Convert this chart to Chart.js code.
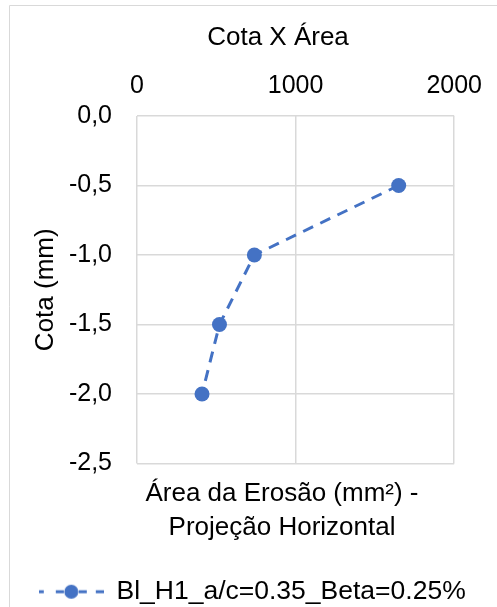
<!DOCTYPE html>
<html lang="pt">
<head>
<meta charset="utf-8">
<title>Cota X Área</title>
<script src="https://cdn.jsdelivr.net/npm/chart.js@4/dist/chart.umd.min.js"></script>
<style>
  html, body { margin: 0; padding: 0; background: #fff; overflow: hidden; }
  #wrap { position: relative; width: 497px; height: 607px; }
</style>
</head>
<body>
<div id="wrap"><canvas id="cotaChart"></canvas></div>
<script>
// Área projetada da erosão (mm²) em cada cota (mm)
const areaValues = [1650, 740, 520, 410];
const cotaValues = [-0.5, -1.0, -1.5, -2.0];
const xTicks = [0, 1000, 2000];
const yTicks = [0, -0.5, -1.0, -1.5, -2.0, -2.5];

const seriesLabel = 'Bl_H1_a/c=0.35_Beta=0.25%';
const chartTitle = 'Cota X Área';
const xTitleLines = ['Área da Erosão (mm²) -', 'Projeção Horizontal'];
const yTitle = 'Cota (mm)';

const BLUE = '#4472C4';
const GRID = '#d9d9d9';
const FONT = '"Liberation Sans", Arial, sans-serif';

Chart.defaults.font.family = FONT;
Chart.defaults.font.size = 25;
Chart.defaults.color = '#000';

// legend glyph: dashed line with the round marker in the middle
function makeLegendGlyph() {
  const c = document.createElement('canvas');
  c.width = 65;
  c.height = 20;
  const g = c.getContext('2d');
  g.strokeStyle = BLUE;
  g.lineWidth = 3;
  const dashes = [[0, 5], [17, 25], [40, 48], [57, 65]];
  dashes.forEach(d => {
    g.beginPath();
    g.moveTo(d[0], 10);
    g.lineTo(d[1], 10);
    g.stroke();
  });
  g.fillStyle = BLUE;
  g.beginPath();
  g.arc(32.5, 10, 7, 0, Math.PI * 2);
  g.fill();
  return c;
}

// outer frame plus chart title and bottom axis title
const chartDecor = {
  id: 'chartDecor',
  beforeDraw(chart) {
    const ctx = chart.ctx;
    ctx.save();
    ctx.strokeStyle = GRID;
    ctx.lineWidth = 1;
    ctx.beginPath();
    ctx.moveTo(9.5, chart.height);
    ctx.lineTo(9.5, 5.5);
    ctx.lineTo(chart.width, 5.5);
    ctx.stroke();
    ctx.restore();
  },
  afterDraw(chart) {
    const ctx = chart.ctx;
    const area = chart.chartArea;
    ctx.save();
    ctx.fillStyle = '#000';
    ctx.textAlign = 'center';
    ctx.textBaseline = 'middle';
    ctx.font = '26px ' + FONT;
    ctx.fillText(chartTitle, 278, 38);
    xTitleLines.forEach((line, i) => {
      ctx.fillText(line, 282, area.bottom + 30 + i * 34);
    });
    ctx.restore();
  }
};

const ctx = document.getElementById('cotaChart').getContext('2d');

new Chart(ctx, {
  type: 'scatter',
  data: {
    datasets: [{
      label: seriesLabel,
      data: areaValues.map((a, i) => ({ x: a, y: cotaValues[i] })),
      showLine: true,
      borderColor: BLUE,
      backgroundColor: BLUE,
      borderWidth: 3,
      borderDash: [11, 8],
      pointRadius: 7.5,
      pointHoverRadius: 7.5,
      pointBorderWidth: 0,
      pointBackgroundColor: BLUE,
      xAxisID: 'x',
      yAxisID: 'y'
    }]
  },
  options: {
    responsive: true,
    maintainAspectRatio: false,
    animation: false,
    events: [],
    layout: {
      padding: { top: 66, left: 8, right: 0, bottom: -8 }
    },
    plugins: {
      title: { display: false },
      tooltip: { enabled: false },
      legend: {
        position: 'bottom',
        labels: {
          usePointStyle: true,
          pointStyle: makeLegendGlyph(),
          pointStyleWidth: 64,
          padding: 0,
          color: '#000',
          font: { size: 26.5 }
        }
      }
    },
    scales: {
      x: {
        type: 'linear',
        position: 'top',
        min: 0,
        max: 2000,
        afterBuildTicks: scale => { scale.ticks = xTicks.map(v => ({ value: v })); },
        ticks: {
          padding: 15,
          maxRotation: 0,
          callback: v => String(v)
        },
        grid: { color: GRID, lineWidth: 1.5, drawTicks: false },
        border: { display: false },
        afterFit: scale => { scale.height = 50; }
      },
      // room under the plot for the axis title
      x2: {
        type: 'linear',
        position: 'bottom',
        min: 0,
        max: 2000,
        ticks: { display: false },
        grid: { display: false },
        border: { display: false },
        afterFit: scale => { scale.height = 115; }
      },
      y: {
        type: 'linear',
        position: 'left',
        min: -2.5,
        max: 0,
        afterBuildTicks: scale => { scale.ticks = yTicks.map(v => ({ value: v })); },
        ticks: {
          padding: 25,
          callback: v => v.toFixed(1).replace('.', ',')
        },
        grid: { color: GRID, lineWidth: 1.5, drawTicks: false },
        border: { display: false },
        title: {
          display: true,
          text: yTitle,
          font: { size: 26 },
          padding: { top: 22, bottom: 0 }
        },
        afterFit: scale => { scale.width = 129; }
      },
      y2: {
        type: 'linear',
        position: 'right',
        min: -2.5,
        max: 0,
        ticks: { display: false },
        grid: { display: false },
        border: { display: false },
        afterFit: scale => { scale.width = 42; }
      }
    }
  },
  plugins: [chartDecor]
});
</script>
</body>
</html>
